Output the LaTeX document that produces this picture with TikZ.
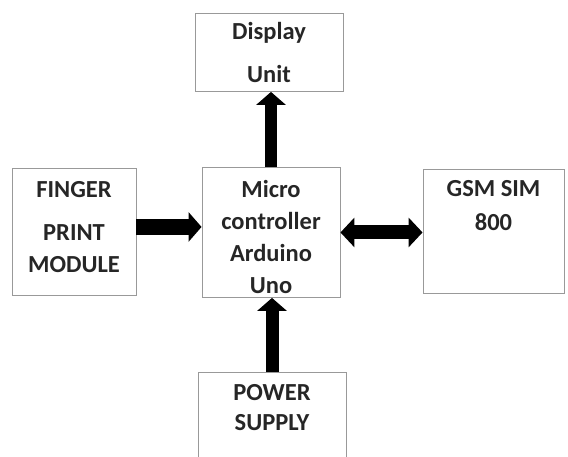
\documentclass[tikz,border=0pt]{standalone}
\usepackage{fontspec}
\newfontfamily\blkfont{Carlito}
\usetikzlibrary{arrows.meta}
\tikzset{
  blk/.style={draw=black!40, line width=0.9pt, inner sep=0pt, anchor=north, align=center,
    font=\blkfont\bfseries\fontsize{24.5}{32}\selectfont, text=black!85},
  fat/.style={line width=14pt, -{Triangle[length=13pt,width=29pt]}},
  fatboth/.style={line width=14pt, {Triangle[length=14pt,width=29pt]}-{Triangle[length=14pt,width=29pt]}},
}
\begin{document}
\begin{tikzpicture}[x=1pt,y=-1pt,line join=miter]
  \useasboundingbox (0,0) rectangle (568,456);
  % boxes, text baseline set by text height/depth (last line)
  \node[blk,minimum width=148pt,text height=69pt,text depth=9pt] (disp) at (269,13) {Display\\[11pt]Unit};
  \node[blk,minimum width=138pt,text height=126pt,text depth=4pt] (micro) at (271,167) {Micro\\controller\\Arduino\\Uno};
  \node[blk,minimum width=124pt,text height=104pt,text depth=23pt] (finger) at (74,168) {FINGER\\[11pt]PRINT\\MODULE};
  \node[blk,minimum width=141pt,text height=61pt,text depth=63pt] (gsm) at (493.5,169) {GSM SIM\\[2pt]800};
  \node[blk,minimum width=148pt,text height=58pt,text depth=40pt] (power) at (272,372) {POWER\\[-2pt]SUPPLY};
  % block arrows
  \draw[fat,line width=16pt] ([yshift=5pt]finger.east) -- ([yshift=5pt]finger.east -| micro.west);
  \draw[fatboth] (micro.east) -- (micro.east -| gsm.west);
  \draw[fat,line width=12pt] (micro.north) -- (micro.north |- disp.south);
  \draw[fat,line width=13pt] (power.north) -- (power.north |- micro.south);
\end{tikzpicture}
\end{document}
